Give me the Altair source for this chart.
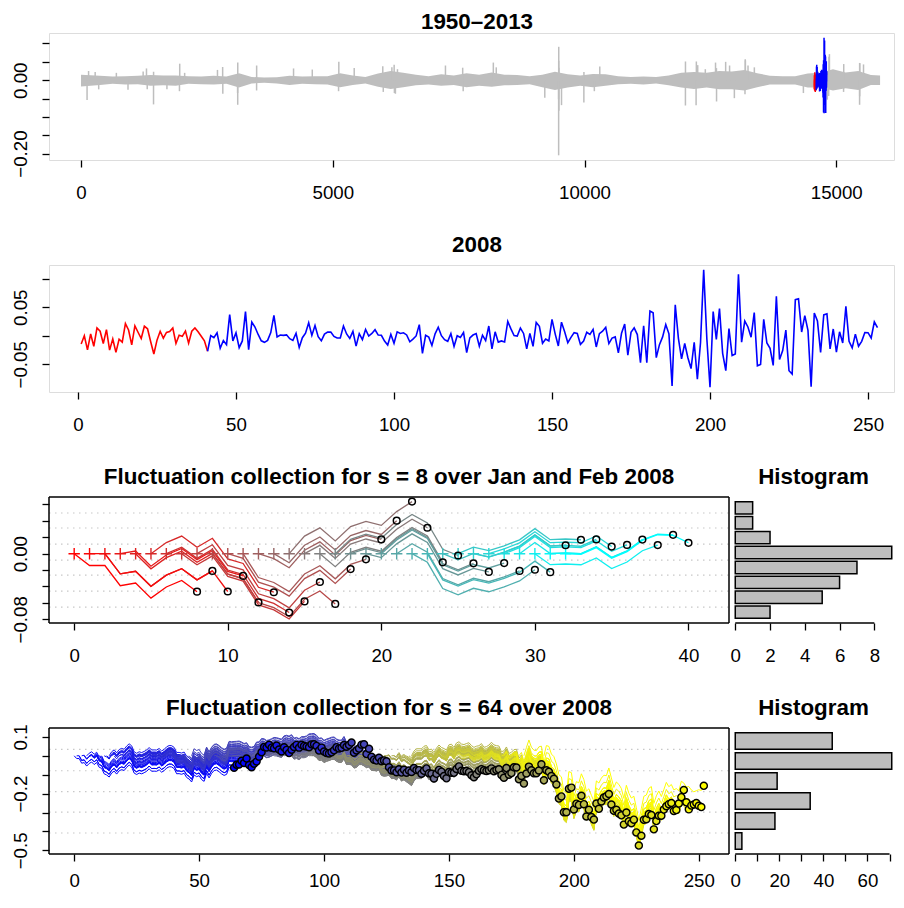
import altair as alt
import pandas as pd
import numpy as np

FONT = "Liberation Sans"
GRAY = "#BEBEBE"

# ---------------- data ----------------
# daily returns of 2008 (percent), trading days 1..253
r2008_pct = [
    # Jan
    -1.44, 0.00, -2.46, 0.32, -1.84, 1.36, 0.79, -1.36, 1.09, -2.51, -0.56, -2.91, -0.60, -1.11, 2.14, 1.01, -1.59, 1.75, 0.62, -0.48, 1.68,
    # Feb
    1.22, -1.05, -3.20, -0.76, 0.79, -0.42, 0.59, 0.73, 1.36, -1.34, 0.08, -0.09, 0.83, -1.29, 0.79, 1.38, 0.69, -0.09, -0.89, -2.71,
    # Mar
    0.05, -0.34, 0.52, -2.20, -0.84, -1.55, 3.71, -0.90, 0.51, -2.08, -0.90, 4.24, -2.43, 2.39, 1.53, 0.23, -0.88, -1.15, -0.80, 0.57,
    # Apr
    3.59, -0.19, 0.13, 0.08, 0.16, -0.51, -0.81, 0.45, -2.04, -0.34, 0.46, 2.27, 0.06, 1.81, -0.16, -0.88, 0.29, 0.64, 0.65, -0.11, -0.39, -0.38,
    # May
    1.71, 0.32, -0.45, 0.77, -1.81, 0.37, -0.67, 1.10, -0.04, 0.40, 1.06, 0.13, 0.09, -0.93, -1.61, 0.26, -1.32, 0.68, 0.40, 0.53, 0.15,
    # Jun
    -1.05, -0.58, -0.03, 1.95, -3.09, 0.08, -0.24, -1.69, 0.33, 1.50, 0.01, -0.68, -0.97, 0.38, -1.85, 0.01, -0.28, 0.58, -2.94, -0.37, 0.13,
    # Jul
    0.38, -1.82, 0.11, -0.84, 1.71, -2.28, 0.70, -1.11, -0.90, -1.09, 2.51, 1.20, 0.03, -0.05, 1.35, 0.41, -2.31, 0.42, -1.86, 2.34, 1.67, -1.31,
    # Aug
    -0.56, -0.90, 2.87, 0.34, -1.79, 2.39, 0.69, -1.21, -0.29, 0.55, 0.41, -1.51, -0.93, 0.62, 0.25, 1.13, -1.96, 0.37, 0.80, 1.48, -1.37,
    # Sep
    -0.41, -0.20, -2.99, 0.44, 2.05, -3.41, 0.61, 1.38, 0.21, -4.71, 1.75, -4.71, 4.33, 4.03, -3.82, -1.56, -0.20, 1.97, 0.34, -8.81, 5.42,
    # Oct
    -0.45, -4.03, -1.35, -3.85, -5.74, -1.13, -7.62, -1.18, 11.58, -0.53, -9.03, 4.25, -0.62, 4.77, -3.08, -6.10, 1.26, -3.45, -3.18, 10.79, -1.11, 2.58, 1.54,
    # Nov
    -0.25, 4.08, -5.27, -5.03, 2.89, -1.27, -2.20, -5.19, 6.92, -4.17, -2.58, 0.98, -6.12, -6.71, 6.32, 6.47, 0.66, 3.53, 0.96,
    # Dec
    -8.93, 3.99, 2.58, -2.93, 3.65, 3.84, -2.31, 1.19, -2.85, 0.70, -1.27, 5.14, -0.96, -2.12, 0.29, -1.83, -0.97, 0.58, 0.54, -0.39, 2.44, 1.42,
]
jan_feb_days = 41

# 1950-2013 series: yearly core of the dense grey band (percent) + isolated spikes
first_2008_index = 14560
days_per_year = 251
series_end_index = 15870
band_years = list(range(1950, 2014))
band_hi_pct = [1.5, 1.2, 1.0, 1.1, 1.2, 1.4, 1.3, 1.3, 1.1, 1.0,
               1.2, 1.0, 1.9, 0.9, 0.7, 0.8, 1.2, 1.0, 1.1, 1.1,
               1.9, 1.3, 0.9, 1.8, 2.5, 2.0, 1.5, 1.1, 1.6, 1.3,
               1.9, 1.5, 2.1, 1.5, 1.4, 1.1, 1.5, 2.3, 1.6, 1.3,
               1.7, 1.6, 1.1, 0.9, 1.0, 0.9, 1.3, 2.0, 2.2, 2.0,
               2.5, 2.4, 2.8, 1.9, 1.2, 1.1, 1.1, 1.8, 2.0, 3.0,
               2.1, 2.5, 1.4, 1.3]
band_lo_pct = [-1.7, -1.3, -1.0, -1.2, -1.1, -1.5, -1.4, -1.5, -1.0, -1.1,
               -1.2, -1.0, -2.0, -0.9, -0.7, -0.9, -1.3, -1.0, -1.1, -1.2,
               -1.9, -1.3, -0.9, -1.8, -2.4, -1.9, -1.4, -1.2, -1.5, -1.3,
               -1.9, -1.5, -1.8, -1.4, -1.3, -1.1, -1.9, -2.7, -2.0, -1.5,
               -1.9, -1.5, -1.1, -1.0, -1.2, -0.9, -1.4, -2.0, -2.4, -2.0,
               -2.5, -2.5, -2.8, -1.9, -1.2, -1.2, -1.2, -2.0, -2.0, -2.8,
               -2.2, -2.7, -1.3, -1.3]
spikes = [  # (year, trading day of year, return in percent)
    (1950, 120, -5.4), (1950, 150, 2.5), (1951, 30, 2.2), (1951, 100, -2.5), (1952, 200, 2.0),
    (1953, 180, -2.6), (1954, 230, 2.4), (1955, 45, 3.2), (1955, 60, -2.5), (1955, 185, -6.6),
    (1955, 186, 2.3), (1956, 200, -2.5), (1957, 198, -3.0), (1957, 203, 4.5), (1958, 50, 2.0),
    (1960, 200, 2.8), (1961, 52, 3.6), (1961, 55, -3.7), (1962, 98, -3.5), (1962, 100, -6.7),
    (1962, 101, 4.8), (1963, 224, -2.8), (1963, 225, 4.0), (1966, 205, 3.2), (1968, 75, 2.9),
    (1970, 95, -3.0), (1970, 100, 5.0), (1971, 155, 3.3), (1973, 220, 3.8), (1973, 230, -3.2),
    (1974, 150, 3.5), (1974, 195, 4.2), (1974, 200, -3.5), (1974, 220, -3.7), (1975, 10, 3.0),
    (1978, 210, 4.0), (1980, 50, 3.4), (1980, 60, -3.0), (1982, 157, 4.8), (1982, 215, 3.5),
    (1986, 175, -4.8), (1987, 198, -5.2), (1987, 199, -20.47), (1987, 200, 5.3), (1987, 201, 9.1),
    (1987, 204, -8.3), (1987, 205, 3.4), (1988, 5, -6.8), (1989, 198, -6.1), (1989, 199, 2.2),
    (1990, 155, -3.0), (1991, 12, 3.7), (1997, 207, -6.9), (1997, 208, 5.1), (1998, 168, -6.8),
    (1998, 173, 5.1), (1998, 200, 4.1), (1999, 100, 3.0), (2000, 52, 4.8), (2000, 70, 3.3),
    (2000, 72, -5.8), (2001, 2, 5.0), (2001, 80, 4.0), (2001, 175, -4.9), (2002, 135, -3.8),
    (2002, 140, 5.7), (2002, 143, 5.4), (2002, 195, 4.0), (2003, 70, 3.5), (2007, 40, -3.5),
    (2009, 13, -5.3), (2009, 40, -4.3), (2009, 46, 6.4), (2009, 55, 7.1), (2010, 85, -3.2),
    (2010, 88, 4.4), (2011, 152, -6.7), (2011, 153, 4.7), (2011, 154, -4.4), (2011, 155, 4.6),
    (2011, 230, 4.3),
]

# histograms (counts, top bar first) and dotted reference levels
hist8_counts = [1, 1, 2, 9, 7, 6, 5, 2]
hist64_counts = [44, 71, 19, 34, 18, 3]
grid8_levels = [0.0496, 0.0313, 0.0117, -0.0078, -0.0261, -0.0456, -0.0651]
grid64_levels = [0.034, -0.079, -0.189, -0.298, -0.408]

# ---------------- derived tables ----------------
r = np.array(r2008_pct) / 100.0
days = np.arange(1, len(r) + 1)

df_red = pd.DataFrame({"d": days[:jan_feb_days], "r": r[:jan_feb_days]})
df_blue = pd.DataFrame({"d": days[jan_feb_days - 1:], "r": r[jan_feb_days - 1:]})
df_red["idx"] = df_red["d"] + first_2008_index - 1
df_blue["idx"] = df_blue["d"] + first_2008_index - 1

band_pos = [(y - 1950) * days_per_year + days_per_year / 2 for y in band_years]
band_pos[0] = 0
band_pos[-1] = series_end_index
df_band = pd.DataFrame({"pos": band_pos,
                        "hi": np.array(band_hi_pct) / 100, "lo": np.array(band_lo_pct) / 100})
df_spike = pd.DataFrame({"pos": [(y - 1950) * days_per_year + d for y, d, _ in spikes],
                         "v": [p / 100 for _, _, p in spikes], "z": 0.0})


def fluct(returns, s):
    X = np.concatenate([[0.0], np.cumsum(returns)])
    n = len(X)
    rows, ends, starts = [], [], []
    for k in range(0, n - s):
        for j in range(s + 1):
            rows.append({"k": k, "x": k + j, "y": X[k + j] - X[k]})
        ends.append({"k": k, "x": k + s, "y": X[k + s] - X[k]})
        starts.append({"k": k, "x": k, "y": 0.0})
    return pd.DataFrame(rows), pd.DataFrame(ends), pd.DataFrame(starts)


lines8, ends8, starts8 = fluct(r[:40], 8)
lines64, ends64, starts64 = fluct(r[:252], 64)

df_h8 = pd.DataFrame({"i": list(range(len(hist8_counts))), "c": hist8_counts})
df_h64 = pd.DataFrame({"i": list(range(len(hist64_counts))), "c": hist64_counts})
df_g8 = pd.DataFrame({"g": grid8_levels})
df_g64 = pd.DataFrame({"g": grid64_levels})
ONE = pd.DataFrame({"a": [0]})

# ---------------- helpers ----------------
LBL = 18.7
W_FULL = 845          # panels 1-2 plot width
W_MAIN = 680          # panels 3-4 main plot width
W_HIST = 163          # histogram width (visible part)
W_HIST_REF = 169      # histogram region width used for its scale


def show_expr(shown):
    cond = " || ".join(f"abs(datum.value - ({v})) < 1e-9" for v in shown)
    return f"({cond}) ? datum.label : ''"


def yaxis(values, shown, fmt):
    return alt.Axis(values=values, format=fmt, labelExpr=show_expr(shown), labelAngle=-90,
                    labelAlign="center", labelBaseline="bottom", tickSize=7, labelPadding=12,
                    domain=False, grid=False, title=None, labelFontSize=LBL, labelFont=FONT,
                    labelColor="black", tickColor="black", tickWidth=1.3, labelOverlap=False,
                    orient="left")


def xaxis(values, pad, shown=None, fmt="d"):
    kw = {}
    if shown is not None:
        kw["labelExpr"] = show_expr(shown)
    return alt.Axis(values=values, format=fmt, tickSize=7, labelPadding=pad, domain=False,
                    grid=False, title=None, labelFontSize=LBL, labelFont=FONT, labelColor="black",
                    tickColor="black", tickWidth=1.3, labelOverlap=False, orient="bottom", **kw)


def title_mark(text, cx, above):
    return alt.Chart(pd.DataFrame({"t": [text]})).mark_text(
        font=FONT, fontSize=22.4, fontWeight="bold", color="black", align="center",
        baseline="alphabetic").encode(text="t:N", x=alt.value(cx), y=alt.value(-above))


# ---------------- panel 1 ----------------
x1 = alt.X("pos:Q", scale=alt.Scale(domain=[-636, -636 + W_FULL / 0.05035], nice=False, zero=False),
           axis=xaxis([0, 5000, 10000, 15000], 16))
y1s = alt.Scale(domain=[-0.2175, 0.1286], nice=False, zero=False)
y1ax = yaxis([-0.2, -0.15, -0.1, -0.05, 0, 0.05, 0.1], [0, -0.2], ".2f")

band = alt.Chart(df_band).mark_area(color=GRAY, interpolate="linear").encode(
    x=x1, y=alt.Y("lo:Q", scale=y1s, axis=y1ax), y2="hi:Q")
spk = alt.Chart(df_spike).mark_rule(color=GRAY, strokeWidth=1.5).encode(
    x="pos:Q", y=alt.Y("z:Q", scale=y1s, axis=y1ax), y2="v:Q")
red1 = alt.Chart(df_red).mark_line(color="#FF0000", strokeWidth=1.5).encode(
    x=alt.X("idx:Q"), y=alt.Y("r:Q", scale=y1s, axis=y1ax))
blue1 = alt.Chart(df_blue).mark_line(color="#0000FF", strokeWidth=1.5).encode(
    x=alt.X("idx:Q"), y=alt.Y("r:Q", scale=y1s, axis=y1ax))
p1 = alt.layer(band, spk, red1, blue1, title_mark("1950–2013", 428, 4)).properties(
    width=W_FULL, height=127)

# ---------------- panel 2 ----------------
x2 = alt.X("d:Q", scale=alt.Scale(domain=[-9.18, -9.18 + W_FULL / 3.16], nice=False, zero=False),
           axis=xaxis([0, 50, 100, 150, 200, 250], 16))
y2 = alt.Y("r:Q", scale=alt.Scale(domain=[-0.0985, 0.1240], nice=False, zero=False),
           axis=yaxis([-0.05, 0, 0.05, 0.1], [0.05, -0.05], ".2f"))
red2 = alt.Chart(df_red).mark_line(color="#FF0000", strokeWidth=1.6).encode(x=x2, y=y2)
blue2 = alt.Chart(df_blue).mark_line(color="#0000FF", strokeWidth=1.6).encode(x=x2, y=y2)
p2 = alt.layer(red2, blue2, title_mark("2008", 428, 13)).properties(width=W_FULL, height=127)


# ---------------- panels 3-4 (main + histogram in one row) ----------------
def fluct_row(lines, ends, starts, s_hist, grid_df, xdom, xvals, ydom, yvals, yshown, yfmt,
              cmax, crange, filled_ends, hist_df, hdom, hvals, hshown, hline_end, pad_out,
              title_text, xpad, height=126):
    x_lo, x_hi = xdom
    ppu = W_MAIN / (x_hi - x_lo)
    xs = alt.Scale(domain=[x_lo, x_lo + (W_MAIN + W_HIST) / ppu], nice=False, zero=False)
    xm = alt.X("x:Q", scale=xs, axis=xaxis(xvals, xpad))
    ys = alt.Scale(domain=ydom, nice=False, zero=False)
    yax = yaxis(yvals, yshown, yfmt)
    ym = alt.Y("y:Q", scale=ys, axis=yax)
    cscale = alt.Scale(domain=[0, cmax], range=crange, interpolate="rgb")

    grid = alt.Chart(grid_df).mark_rule(color="#C8C8C8", strokeDash=[1.5, 4.5], strokeWidth=1.2).encode(
        x=alt.datum(x_lo), x2=alt.datum(x_hi), y=alt.Y("g:Q", scale=ys, axis=yax))
    ln = alt.Chart(lines).mark_line(strokeWidth=1.3 if s_hist == 8 else 1.0).encode(
        x=xm, y=ym, color=alt.Color("k:Q", scale=cscale, legend=None), detail="k:N")
    layers = [grid, ln]
    if starts is not None:
        layers.append(alt.Chart(starts).mark_point(
            shape="M-1,0L1,0M0,-1L0,1", filled=False, size=130, strokeWidth=1.4, opacity=1).encode(
            x=xm, y=ym, color=alt.Color("k:Q", scale=cscale, legend=None)))
    if filled_ends:
        layers.append(alt.Chart(ends).mark_point(
            shape="circle", filled=True, size=50, stroke="black", strokeWidth=1.4, opacity=1).encode(
            x=xm, y=ym, fill=alt.Fill("k:Q", scale=cscale, legend=None)))
    else:
        layers.append(alt.Chart(ends).mark_point(
            shape="circle", filled=False, size=45, strokeWidth=1.5, color="black", opacity=1).encode(
            x=xm, y=ym))
    # frame of the main plot
    fr = dict(color="black", strokeWidth=1.5)
    layers += [
        alt.Chart(ONE).mark_rule(**fr).encode(x=alt.datum(x_lo), x2=alt.datum(x_hi), y=alt.value(0)),
        alt.Chart(ONE).mark_rule(**fr).encode(x=alt.datum(x_lo), x2=alt.datum(x_hi), y=alt.value(height)),
        alt.Chart(ONE).mark_rule(**fr).encode(x=alt.datum(x_lo), y=alt.value(0), y2=alt.value(height)),
        alt.Chart(ONE).mark_rule(**fr).encode(x=alt.datum(x_hi), y=alt.value(0), y2=alt.value(height)),
        title_mark(title_text, W_MAIN / 2, 13),
    ]
    main = alt.layer(*layers)

    h_lo, h_hi = hdom
    hppu = W_HIST_REF / (h_hi - h_lo)
    hs = alt.Scale(domain=[h_lo - W_MAIN / hppu, h_lo + W_HIST / hppu], nice=False, zero=False)
    hx = alt.X("c:Q", scale=hs, axis=xaxis(hvals, xpad, shown=hshown))
    bars = alt.Chart(hist_df).mark_bar(color=GRAY, stroke="black", strokeWidth=1.5).encode(
        x=hx, x2=alt.datum(0),
        y=alt.Y("i:O", axis=None, scale=alt.Scale(paddingInner=1 / 6, paddingOuter=pad_out)))
    hline = alt.Chart(ONE).mark_rule(color="black", strokeWidth=1.3).encode(
        x=alt.datum(0), x2=alt.datum(hline_end), y=alt.value(height))
    htitle = title_mark("Histogram", W_MAIN + W_HIST_REF / 2, 13)
    hist = alt.layer(bars, hline, htitle)

    return alt.layer(main, hist).resolve_scale(x="independent", y="independent").properties(
        width=W_MAIN + W_HIST, height=height, view=alt.ViewBackground(stroke="transparent"))


p3 = fluct_row(lines8, ends8, starts8, 8, df_g8, (-1.64, 42.64), [0, 10, 20, 30, 40],
               [-0.0845, 0.0691], [-0.08, -0.06, -0.04, -0.02, 0, 0.02, 0.04, 0.06], [0, -0.08], ".2f",
               32, ["#FF0000", "#00FFFF"], False,
               df_h8, (-0.36, 9.36), [0, 2, 4, 6, 8], None, 8, 0.3133,
               "Fluctuation collection for s = 8 over Jan and Feb 2008", 16)

p4 = fluct_row(lines64, ends64, None, 64, df_g64, (-10.08, 262.08), [0, 50, 100, 150, 200, 250],
               [-0.519, 0.147], [-0.5, -0.4, -0.3, -0.2, -0.1, 0, 0.1], [0.1, -0.2, -0.5], ".1f",
               188, ["#0000FF", "#FFFF00"], True,
               df_h64, (-2.84, 73.84), [0, 10, 20, 30, 40, 50, 60, 70], [0, 20, 40, 60], 70, 0.2333,
               "Fluctuation collection for s = 64 over 2008", 10)

chart = alt.vconcat(p1, p2, p3, p4, spacing=105, bounds="flush").resolve_scale(
    color="independent", fill="independent"
).properties(
    padding={"left": 2, "top": 2, "right": 0, "bottom": 0}
).configure_view(stroke="black", strokeWidth=1.5).configure(background="white")

chart.save("out.html", embed_options={"renderer": "svg", "actions": False})
